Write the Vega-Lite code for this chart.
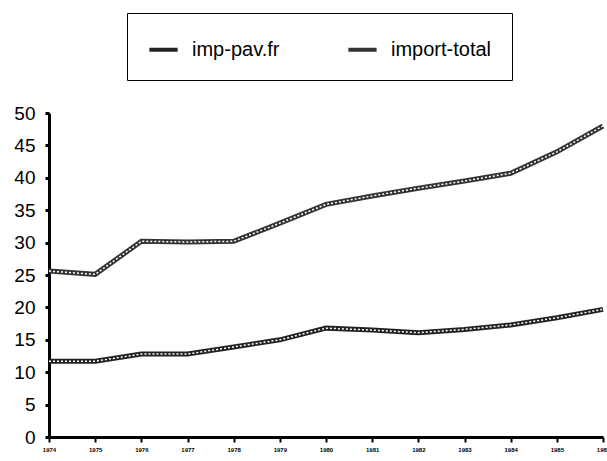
{
  "$schema": "https://vega.github.io/schema/vega-lite/v6.json",
  "width": 554,
  "height": 324,
  "autosize": {"type": "none"},
  "padding": {"left": 49, "top": 113, "right": 4, "bottom": 24},
  "background": "white",
  "config": {
    "view": {"stroke": null},
    "font": "Liberation Sans Narrow, Liberation Sans, Arial"
  },
  "data": {
    "values": [
      {"year": 1974, "series": "imp-pav.fr", "value": 11.7},
      {"year": 1975, "series": "imp-pav.fr", "value": 11.7},
      {"year": 1976, "series": "imp-pav.fr", "value": 12.8},
      {"year": 1977, "series": "imp-pav.fr", "value": 12.8},
      {"year": 1978, "series": "imp-pav.fr", "value": 13.9},
      {"year": 1979, "series": "imp-pav.fr", "value": 15.0},
      {"year": 1980, "series": "imp-pav.fr", "value": 16.8},
      {"year": 1981, "series": "imp-pav.fr", "value": 16.5},
      {"year": 1982, "series": "imp-pav.fr", "value": 16.1},
      {"year": 1983, "series": "imp-pav.fr", "value": 16.6},
      {"year": 1984, "series": "imp-pav.fr", "value": 17.3},
      {"year": 1985, "series": "imp-pav.fr", "value": 18.4},
      {"year": 1986, "series": "imp-pav.fr", "value": 19.7},
      {"year": 1974, "series": "import-total", "value": 25.6},
      {"year": 1975, "series": "import-total", "value": 25.1},
      {"year": 1976, "series": "import-total", "value": 30.2},
      {"year": 1977, "series": "import-total", "value": 30.1},
      {"year": 1978, "series": "import-total", "value": 30.2},
      {"year": 1979, "series": "import-total", "value": 33.0},
      {"year": 1980, "series": "import-total", "value": 35.9},
      {"year": 1981, "series": "import-total", "value": 37.2},
      {"year": 1982, "series": "import-total", "value": 38.4},
      {"year": 1983, "series": "import-total", "value": 39.5},
      {"year": 1984, "series": "import-total", "value": 40.7},
      {"year": 1985, "series": "import-total", "value": 44.0},
      {"year": 1986, "series": "import-total", "value": 48.0}
    ]
  },
  "encoding": {
    "x": {
      "field": "year",
      "type": "quantitative",
      "scale": {"domain": [1974, 1986], "nice": false, "zero": false},
      "axis": {
        "title": null,
        "values": [1974, 1975, 1976, 1977, 1978, 1979, 1980, 1981, 1982, 1983, 1984, 1985, 1986],
        "format": "d",
        "grid": false,
        "domainColor": "black",
        "domainWidth": 3,
        "tickColor": "black",
        "tickWidth": 2,
        "tickSize": 5,
        "labelFontSize": 6,
        "labelFontWeight": "bold",
        "labelColor": "black",
        "labelPadding": 4,
        "labelFlush": false,
        "labelOverlap": false
      }
    },
    "y": {
      "field": "value",
      "type": "quantitative",
      "scale": {"domain": [0, 50], "nice": false},
      "axis": {
        "title": null,
        "values": [0, 5, 10, 15, 20, 25, 30, 35, 40, 45, 50],
        "grid": false,
        "domainColor": "black",
        "domainWidth": 3,
        "tickColor": "black",
        "tickWidth": 3,
        "tickSize": 4,
        "labelFontSize": 19,
        "labelColor": "black",
        "labelPadding": 10,
        "labelFlush": false,
        "labelOverlap": false
      }
    }
  },
  "layer": [
    {
      "mark": {"type": "line", "strokeWidth": 5},
      "encoding": {
        "color": {
          "field": "series",
          "type": "nominal",
          "scale": {"domain": ["imp-pav.fr", "import-total"], "range": ["#222222", "#333333"]},
          "legend": {
            "title": null,
            "orient": "none",
            "legendX": 78,
            "legendY": -100,
            "direction": "horizontal",
            "columns": 2,
            "columnPadding": 60,
            "padding": 20,
            "strokeColor": "black",
            "fillColor": "white",
            "symbolType": "stroke",
            "symbolSize": 800,
            "symbolStrokeWidth": 4,
            "labelFontSize": 20,
            "labelColor": "black",
            "labelOffset": 12,
            "labelLimit": 200
          }
        }
      }
    },
    {
      "mark": {"type": "line", "strokeWidth": 1.5, "color": "white"},
      "encoding": {
        "detail": {"field": "series", "type": "nominal"},
        "strokeDash": {"value": [2, 2]}
      }
    }
  ]
}
